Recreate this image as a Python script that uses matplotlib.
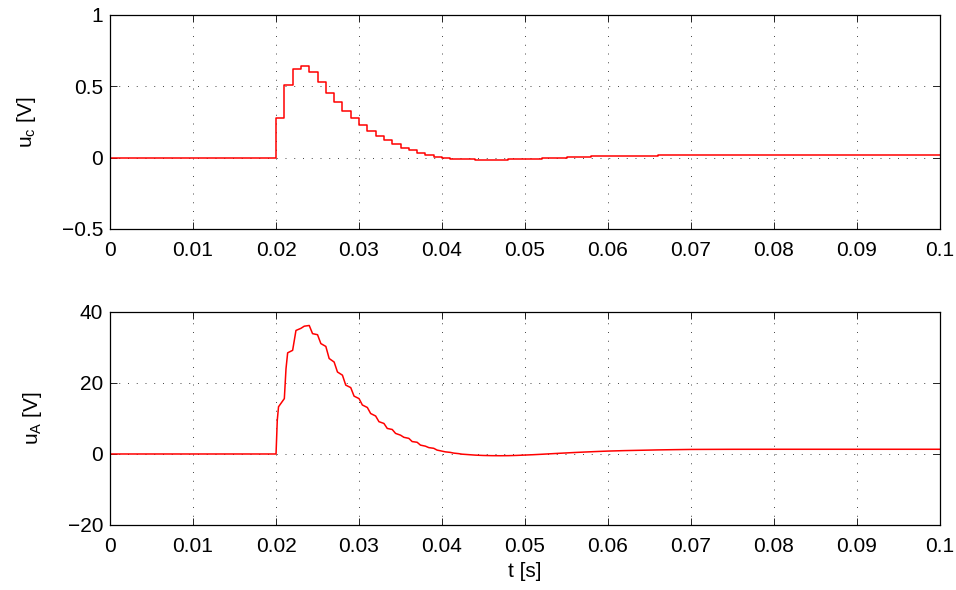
import numpy as np
import matplotlib
matplotlib.use("Agg")
import matplotlib.pyplot as plt

plt.rcParams['font.family'] = ['Liberation Sans', 'DejaVu Sans']
plt.rcParams['mathtext.fontset'] = 'custom'
plt.rcParams['mathtext.rm'] = 'Liberation Sans'
plt.rcParams['mathtext.it'] = 'Liberation Sans'
plt.rcParams['mathtext.default'] = 'regular'

# controller output u_c, zero-order hold, 1 ms samples from t = 0.020 s
uc_t0 = 0.020
uc_dt = 0.001
uc_vals = [0.278, 0.511, 0.624, 0.643, 0.598, 0.528, 0.456, 0.388, 0.329, 0.276,
           0.231, 0.189, 0.154, 0.124, 0.093, 0.070, 0.051, 0.035, 0.019, 0.007,
           -0.001, -0.006, -0.010, -0.012, -0.014, -0.014, -0.014, -0.013, -0.012, -0.010,
           -0.008, -0.006, -0.004, -0.001, 0.001, 0.003, 0.005, 0.007, 0.009, 0.010,
           0.011, 0.012, 0.013, 0.014, 0.015, 0.015, 0.016, 0.016, 0.017, 0.017,
           0.018, 0.018, 0.018, 0.018, 0.018, 0.018, 0.018, 0.018, 0.018, 0.018,
           0.018, 0.018, 0.018, 0.018, 0.018, 0.018, 0.018, 0.018, 0.018, 0.018,
           0.018, 0.018, 0.018, 0.018, 0.018, 0.018, 0.018, 0.018, 0.018, 0.018,
           0.018]

# armature voltage u_A (ms, V)
ua_t_ms = [0, 20.0, 20.15, 20.3, 21.0, 21.2, 21.4, 22.0, 22.4, 23.0, 23.4, 24.0,
           24.4, 25.0, 25.4, 26.0, 26.4, 27.0, 27.4, 28.0, 28.4, 29.0,
           29.4, 30.0, 30.4, 31.0, 31.4, 32.0, 32.4, 33.0, 33.4, 34.0,
           34.4, 35.0, 35.4, 36.0, 36.4, 37.0, 37.4, 38.0, 38.4, 39.0,
           39.4, 40.0, 40.4, 41.0, 41.4, 42.0, 42.4, 43.0, 44.0, 45.0,
           46.0, 47.0, 48.0, 49.0, 50.0, 51.0, 52.0, 53.0, 54.0, 55.0,
           56.0, 57.0, 58.0, 59.0, 60.0, 62.0, 64.0, 66.0, 68.0, 70.0,
           75.0, 80.0, 100.0]
ua_vals = [0, 0, 9.5, 13.3, 15.6, 24.0, 28.5, 29.2, 34.8, 35.4, 36.0, 36.2,
           33.9, 33.6, 31.1, 30.3, 26.9, 25.9, 23.1, 22.2, 19.4, 18.7,
           16.3, 15.6, 13.8, 13.1, 11.4, 10.7, 9.1, 8.6, 7.2, 6.9,
           5.8, 5.3, 4.7, 4.4, 3.5, 3.3, 2.5, 2.2, 1.8, 1.6,
           1.1, 0.8, 0.6, 0.45, 0.25, 0.1, -0.05, -0.15, -0.32, -0.42,
           -0.47, -0.49, -0.47, -0.4, -0.3, -0.2, -0.08, 0.05, 0.18, 0.3,
           0.42, 0.53, 0.63, 0.73, 0.82, 0.95, 1.05, 1.15, 1.22, 1.28,
           1.32, 1.33, 1.33]

xticks = [0, 0.01, 0.02, 0.03, 0.04, 0.05, 0.06, 0.07, 0.08, 0.09, 0.1]
xticklabels = ['0', '0.01', '0.02', '0.03', '0.04', '0.05', '0.06', '0.07', '0.08', '0.09', '0.1']

uc_t = [0.0] + [uc_t0 + i * uc_dt for i in range(len(uc_vals))]
uc_y = [0.0] + uc_vals
ua_t = np.array(ua_t_ms) / 1000.0

fs = 15

fig = plt.figure(figsize=(9.56, 5.90), dpi=100)
ax1 = fig.add_axes([0.1151, 0.6119, 0.8682, 0.3627])
ax2 = fig.add_axes([0.1151, 0.1102, 0.8682, 0.3610])

ax1.plot(uc_t, uc_y, color='red', lw=1.1, drawstyle='steps-post')
ax2.plot(ua_t, ua_vals, color='red', lw=1.1)

for ax in (ax1, ax2):
    ax.set_xlim(0, 0.1)
    ax.set_xticks(xticks)
    ax.set_xticklabels(xticklabels)
    ax.grid(True, color='#444444', linewidth=0.7, dashes=(1, 8))
    ax.tick_params(direction='in', length=5, width=0.6, top=True, right=True,
                   labelsize=fs)
    ax.tick_params(axis='x', pad=9)
    ax.tick_params(axis='y', pad=5)
    for s in ax.spines.values():
        s.set_linewidth(0.9)

ax1.set_ylim(-0.5, 1)
ax1.set_yticks([-0.5, 0, 0.5, 1])
ax1.set_yticklabels(['\u22120.5', '0', '0.5', '1'])
ax1.set_ylabel('$u_c$ [V]', fontsize=fs, labelpad=17)

ax2.set_ylim(-20, 40)
ax2.set_yticks([-20, 0, 20, 40])
ax2.set_yticklabels(['\u221220', '0', '20', '40'])
ax2.set_ylabel('$u_A$ [V]', fontsize=fs, labelpad=17)
ax2.set_xlabel('t [s]', fontsize=fs, labelpad=4)

fig.savefig('out.png', dpi=100)
